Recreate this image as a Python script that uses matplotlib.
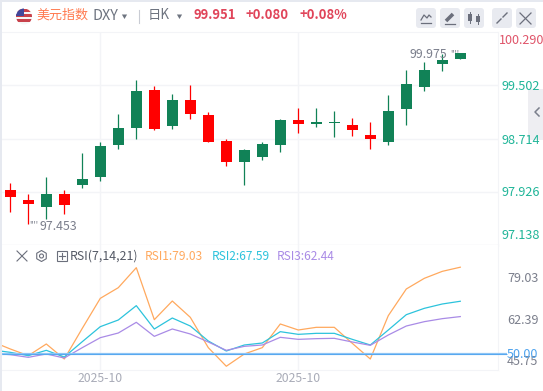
import numpy as np
import matplotlib
matplotlib.use("Agg")
import matplotlib.pyplot as plt
from matplotlib.patches import Rectangle, FancyBboxPatch, Circle, RegularPolygon

plt.rcParams['font.family'] = ['Noto Sans CJK SC', 'DejaVu Sans']

W, H = 543, 391

# Candles, oldest first
opens = [97.956, 97.807, 97.707, 97.896, 98.020, 98.149, 98.614, 98.863, 99.428, 98.897, 99.279, 99.056, 98.684,
         98.372, 98.446, 98.625, 98.982, 98.922, 98.937, 98.907, 98.759, 98.655, 99.145, 99.472, 99.814, 99.889]
closes = [97.841, 97.752, 97.896, 97.737, 98.119, 98.610, 98.863, 99.413, 98.848, 99.279, 99.071, 98.669, 98.372,
          98.550, 98.640, 98.982, 98.922, 98.952, 98.952, 98.833, 98.714, 99.115, 99.517, 99.725, 99.874, 99.975]
highs = [98.060, 97.896, 98.149, 97.956, 98.506, 98.669, 99.071, 99.576, 99.487, 99.368, 99.502, 99.101, 98.714,
         98.565, 98.655, 98.997, 99.160, 99.160, 99.115, 99.011, 98.952, 99.353, 99.725, 99.844, 99.960, 99.975]
lows = [97.633, 97.453, 97.525, 97.603, 97.975, 98.090, 98.565, 98.714, 98.840, 98.848, 98.997, 98.655, 98.313,
        98.030, 98.402, 98.521, 98.788, 98.878, 98.729, 98.744, 98.565, 98.625, 98.907, 99.413, 99.710, 99.889]

# RSI starts one candle before the first visible one
rsi1 = [54.01, 51.55, 49.31, 53.23, 48.19, 58.49, 68.57, 72.15, 78.87, 61.40, 67.67, 62.19, 52.00, 45.75,
        49.87, 52.00, 59.95, 57.93, 58.83, 58.83, 53.45, 48.19, 62.75, 71.71, 75.29, 77.64, 79.03]
rsi2 = [51.21, 50.43, 49.31, 51.10, 48.86, 54.01, 59.05, 61.29, 66.11, 58.27, 61.96, 59.27, 54.23, 50.87,
        52.89, 53.56, 57.37, 56.47, 56.81, 56.81, 54.79, 52.89, 57.93, 63.08, 65.21, 66.67, 67.59]
rsi3 = [50.09, 49.64, 48.75, 49.87, 48.52, 52.00, 55.35, 56.92, 60.51, 55.80, 58.27, 56.59, 53.90, 51.10,
        52.44, 52.89, 55.47, 54.79, 55.02, 55.13, 53.90, 52.78, 56.25, 59.27, 60.73, 61.74, 62.44]

price_ticks = [99.502, 98.714, 97.926, 97.138]
price_labels = ["100.290", "99.502", "98.714", "97.926", "97.138"]
rsi_labels = ["79.03", "62.39", "45.75"]
date_labels = ["2025-10", "2025-10"]
date_idx = [5, 16]

GREEN = "#118257"
RED = "#ff0000"
GRID = "#f3f4f7"
ORANGE = "#ffa95e"
CYAN = "#2cc3dc"
PURPLE = "#a98be6"
GREY = "#6e7480"
NUM_RED = "#e0455a"
TEAL = "#1fb598"


def make_axes(left, top, right, bottom):
    return fig.add_axes([left / W, 1 - bottom / H, (right - left) / W, (bottom - top) / H])


fig = plt.figure(figsize=(W / 100, H / 100), dpi=100, facecolor="#e6e9f0")

# Page overlay in pixel coordinates
page = fig.add_axes([0, 0, 1, 1], zorder=0)
page.set_xlim(0, W)
page.set_ylim(H, 0)
page.axis("off")
page.add_patch(Rectangle((2, 2), W, H, fc="white", ec="none"))

top_layer = fig.add_axes([0, 0, 1, 1], zorder=5)
top_layer.set_xlim(0, W)
top_layer.set_ylim(H, 0)
top_layer.axis("off")
top_layer.patch.set_alpha(0)

xlim = ((2 - 10.3) / 18, (498 - 10.3) / 18)

# Candles
ax = make_axes(2, 32, 498, 245)
ax.set_zorder(2)
x = np.arange(len(opens))
for i in x:
    color = GREEN if closes[i] >= opens[i] else RED
    ax.vlines(i, lows[i], highs[i], color=color, lw=0.9, zorder=3)
    ax.bar(i, abs(closes[i] - opens[i]), bottom=min(opens[i], closes[i]), width=0.61, color=color, zorder=3)
ax.set_xlim(xlim)
ax.set_ylim(97.138, 100.29)
ax.set_yticks(price_ticks)
ax.set_xticks(date_idx)
ax.grid(True, color=GRID, lw=1)
ax.set_axisbelow(True)
ax.tick_params(length=0, labelleft=False, labelbottom=False)
for name, sp in ax.spines.items():
    sp.set_visible(name in ("top", "right", "bottom"))
    sp.set_color(GRID)

# RSI
ax2 = make_axes(2, 245, 498, 370)
ax2.set_zorder(2)
x2 = np.arange(-1, len(rsi1) - 1)
ax2.plot(x2, rsi1, color=ORANGE, lw=0.9)
ax2.plot(x2, rsi2, color=CYAN, lw=0.9)
ax2.plot(x2, rsi3, color=PURPLE, lw=0.9)
ax2.set_xlim(xlim)
ax2.set_ylim(44.49, 86.49)
ax2.set_xticks(date_idx)
ax2.set_yticks([])
ax2.grid(True, axis="x", color=GRID, lw=1)
ax2.set_axisbelow(True)
ax2.tick_params(length=0, labelbottom=False)
for name, sp in ax2.spines.items():
    sp.set_visible(name in ("right", "bottom"))
    sp.set_color(GRID)

# 50 line runs a little past the axis
top_layer.plot([2, 507], [354, 354], color="#8cc4f5", lw=1.6, solid_capstyle="butt")
top_layer.plot([2, 507], [354, 354], color="#4ea3ee", lw=0.6, solid_capstyle="butt")


def label(px, py, s, color, size, ha="left", weight="normal"):
    top_layer.text(px, py, s, color=color, fontsize=size, ha=ha, va="center", fontweight=weight)


# Header
for i, c in enumerate(["#c8414b", "#f5f5f5"] * 3):
    top_layer.add_patch(Rectangle((16, 9 + i * 2.6), 16, 2.6, fc=c, ec="none", zorder=2,
                                  clip_path=None))
flag = Circle((24, 16.5), 8, transform=top_layer.transData)
for p in top_layer.patches[-6:]:
    p.set_clip_path(flag)
canton = Rectangle((16, 8), 8, 8, fc="#41479b", ec="none", zorder=3)
top_layer.add_patch(canton)
canton.set_clip_path(flag)

label(36, 15, "美元指数", "#ff7a50", 9.4)
label(92, 16.5, "DXY", GREY, 10.4)
# y axis is flipped here, orientation 0 points down
top_layer.add_patch(RegularPolygon((124.5, 16), 3, radius=3, orientation=0, fc=GREY, ec="none"))
top_layer.plot([138.5, 138.5], [10, 23], color="#c9ccd4", lw=0.8)
label(148, 15, "日K", GREY, 9.6)
top_layer.add_patch(RegularPolygon((179.5, 16), 3, radius=3, orientation=0, fc=GREY, ec="none"))
label(193, 15, "99.951", NUM_RED, 9.4, weight="bold")
label(246, 15, "+0.080", NUM_RED, 9.4, weight="bold")
label(299, 15, "+0.08%", NUM_RED, 9.4, weight="bold")

# Header buttons
for bx in [416, 440, 464, 492, 516]:
    top_layer.add_patch(FancyBboxPatch((bx + 2, 10), 16, 16, boxstyle="round,pad=2,rounding_size=3",
                                       fc="#e8eaf0", ec="none"))
ICON = "#6b6f7c"
top_layer.plot([421, 424, 427, 429, 431], [20, 15, 18, 15, 17], color=ICON, lw=0.9)
top_layer.plot([421, 431], [23, 23], color=ICON, lw=0.9)
top_layer.plot([446, 453], [21, 14], color=ICON, lw=2.6, solid_capstyle="butt")
top_layer.plot([445, 455], [23.5, 23.5], color=ICON, lw=0.9)
for bx, y0, y1 in [(470, 14, 21), (478, 16, 22)]:
    top_layer.add_patch(Rectangle((bx - 2, y0), 4, y1 - y0, fc=ICON, ec="none"))
    top_layer.plot([bx, bx], [y0 - 2, y1 + 2], color=ICON, lw=0.7)
top_layer.plot([497, 501], [23, 19], color=ICON, lw=1)
top_layer.plot([503, 507], [17, 13], color=ICON, lw=1)
top_layer.plot([520, 531], [13, 24], color=ICON, lw=0.9)
top_layer.plot([520, 531], [24, 13], color=ICON, lw=0.9)

# Price scale labels
label(498.5, 40, price_labels[0], "#e0556a", 9.1)
for py, s in zip([87, 140.5, 193, 235.5], price_labels[1:]):
    label(501, py, s, TEAL, 9.1)

# High and low annotations
label(447, 55, "99.975", "#7b7f8c", 8.9, ha="right")
label(450, 54, "''''", "#7b7f8c", 6)
label(29, 225, "''''", "#7b7f8c", 6)
label(40, 226.5, "97.453", "#7b7f8c", 8.9)

# RSI header
top_layer.plot([17, 27], [251, 261], color=ICON, lw=0.8)
top_layer.plot([17, 27], [261, 251], color=ICON, lw=0.8)
top_layer.add_patch(RegularPolygon((41.5, 256), 6, radius=5.5, fc="none", ec=ICON, lw=0.8))
top_layer.add_patch(Circle((41.5, 256), 2, fc="none", ec=ICON, lw=0.8))
top_layer.add_patch(Rectangle((56.5, 251), 10, 10, fc="none", ec=ICON, lw=0.8))
top_layer.plot([58.5, 64.5], [256, 256], color=ICON, lw=0.8)
top_layer.plot([61.5, 61.5], [253, 259], color=ICON, lw=0.8)
label(70, 256, "RSI(7,14,21)", "#555a66", 8.9)
label(145, 256, "RSI1:79.03", ORANGE, 8.6)
label(212, 256, "RSI2:67.59", CYAN, 8.6)
label(277, 256, "RSI3:62.44", PURPLE, 8.6)

# RSI scale labels
for py, s in zip([278.5, 320, 361.5], rsi_labels):
    label(507, py, s, "#7b7f8c", 9.1)
label(507, 354, "50.00", "#4ea3ee", 9.1)

# Date labels
for i, s in zip(date_idx, date_labels):
    label(10.3 + 18 * i, 378, s, "#a9acb8", 8.8, ha="center")

# Collapse handle on the right edge
top_layer.add_patch(Rectangle((528, 89), 15, 51, fc="#eeeef2", ec="none"))
top_layer.plot([539, 535, 539], [108, 112, 116], color="#7b7f8c", lw=1.1)

fig.savefig("out.png", dpi=100, facecolor=fig.get_facecolor())
